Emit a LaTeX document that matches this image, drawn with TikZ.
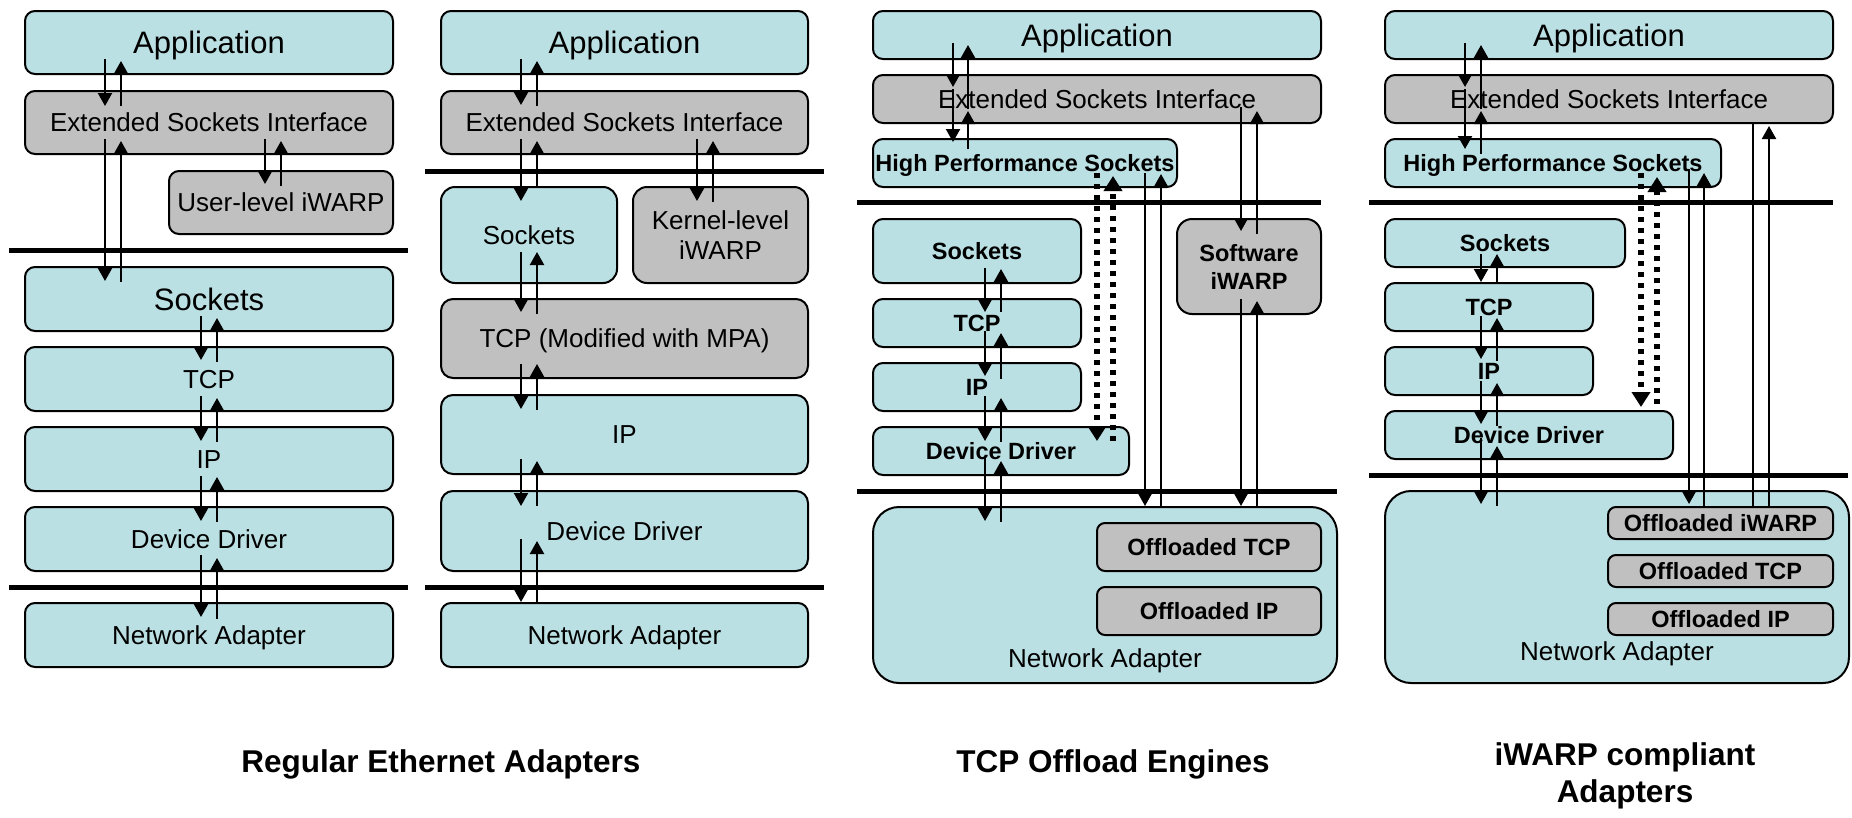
\documentclass[tikz,border=0pt]{standalone}
\usepackage{fontspec}
\setmainfont{Liberation Sans}
\usetikzlibrary{arrows.meta,calc}

\definecolor{boxc}{RGB}{187,224,227}
\definecolor{boxg}{RGB}{192,192,192}

\newcommand\fbig{\fontsize{31}{36}\selectfont}
\newcommand\freg{\fontsize{26}{30}\selectfont}
\newcommand\fbld{\fontsize{23.5}{28}\selectfont\bfseries}
\newcommand\fcap{\fontsize{31.5}{37}\selectfont\bfseries}

% layer box: [extra]{style}{name}{x1}{y1}{x2}{y2}{text}
\newcommand\blk[8][]{%
  \node[#2,#1,minimum width={(#6-#4)*1pt},minimum height={(#7-#5)*1pt}]
    (#3) at ({(#4+#6)/2},{(#5+#7)/2}) {#8};}
% downward arrow: [style]{upper}{lower}{x}{start above upper bottom}{end below lower top}
\newcommand\dn[6][arr]{%
  \draw[#1] let \p1=(#2.south), \p2=(#3.north) in
    ({#4pt},{\y1+(#5)*1pt}) -- ({#4pt},{\y2-(#6)*1pt});}
% upward arrow: [style]{lower}{upper}{x}{start below lower top}{end above upper bottom}
\newcommand\upw[6][arr]{%
  \draw[#1] let \p1=(#2.north), \p2=(#3.south) in
    ({#4pt},{\y1-(#5)*1pt}) -- ({#4pt},{\y2+(#6)*1pt});}

\tikzset{
  blkbase/.style={draw=black,line width=2pt,rounded corners=10pt,inner sep=0pt},
  cb/.style={blkbase,fill=boxc},
  gb/.style={blkbase,fill=boxg},
  tbig/.style={font=\fbig,text height=22.2pt,text depth=0pt},
  treg/.style={font=\freg,text height=18.6pt,text depth=0pt},
  tbold/.style={font=\fbld,text height=16.8pt,text depth=0pt},
  mreg/.style={font=\freg,align=center},
  mbold/.style={font=\fbld,align=center},
  sepline/.style={line width=5pt},
  arr/.style={line width=2.2pt,-{Triangle[length=13pt,width=14pt]}},
  dotarr/.style={line width=5.5pt,dash pattern=on 5pt off 6pt,-{Triangle[length=15pt,width=18pt]}},
  plainln/.style={line width=2.2pt},
}

\begin{document}
\begin{tikzpicture}[x=1pt,y=-1pt]
\useasboundingbox (0,0) rectangle (1852,817);

% ---------- regular Ethernet adapters: user-level iWARP ----------
\blk[tbig]{cb}{a1}{25}{11}{393}{74}{Application}
\blk[treg]{gb}{e1}{25}{91}{393}{154}{Extended Sockets Interface}
\blk[treg]{gb}{u1}{169}{171}{393}{234}{User-level iWARP}
\blk[tbig]{cb}{s1}{25}{267}{393}{331}{Sockets}
\blk[treg]{cb}{t1}{25}{347}{393}{411}{TCP}
\blk[treg]{cb}{i1}{25}{427}{393}{491}{IP}
\blk[treg]{cb}{d1}{25}{507}{393}{571}{Device Driver}
\blk[treg]{cb}{n1}{25}{603}{393}{667}{Network Adapter}

% ---------- regular Ethernet adapters: kernel-level iWARP ----------
\blk[tbig]{cb}{a2}{441}{11}{808}{74}{Application}
\blk[treg]{gb}{e2}{441}{91}{808}{154}{Extended Sockets Interface}
\blk[treg,rounded corners=14pt]{cb}{s2}{441}{187}{617}{283}{Sockets}
\blk[mreg,rounded corners=14pt]{gb}{k2}{633}{187}{808}{283}{Kernel-level\\iWARP}
\blk[treg,rounded corners=12pt]{gb}{t2}{441}{299}{808}{378}{TCP (Modified with MPA)}
\blk[treg,rounded corners=12pt]{cb}{i2}{441}{395}{808}{474}{IP}
\blk[treg,rounded corners=12pt]{cb}{d2}{441}{491}{808}{571}{Device Driver}
\blk[treg]{cb}{n2}{441}{603}{808}{667}{Network Adapter}

% ---------- TCP offload engines ----------
\blk[tbig]{cb}{a3}{873}{11}{1321}{59}{Application}
\blk[treg]{gb}{e3}{873}{75}{1321}{123}{Extended Sockets Interface}
\blk[tbold]{cb}{h3}{873}{139}{1177}{187}{High Performance Sockets}
\blk[tbold]{cb}{s3}{873}{219}{1081}{283}{Sockets}
\blk[mbold,rounded corners=15pt]{gb}{w3}{1177}{219}{1321}{314}{Software\\iWARP}
\blk[tbold]{cb}{t3}{873}{299}{1081}{347}{TCP}
\blk[tbold]{cb}{i3}{873}{363}{1081}{411}{IP}
\blk[tbold]{cb}{d3}{873}{427}{1129}{475}{Device Driver}
\blk[rounded corners=26pt]{cb}{n3}{873}{507}{1337}{683}{}
\blk[tbold,rounded corners=8pt]{gb}{ot3}{1097}{523}{1321}{571}{Offloaded TCP}
\blk[tbold,rounded corners=8pt]{gb}{oi3}{1097}{587}{1321}{635}{Offloaded IP}
\node[font=\freg,anchor=base] (n3t) at (1105,667) {Network Adapter};

% ---------- iWARP compliant adapters ----------
\blk[tbig]{cb}{a4}{1385}{11}{1833}{59}{Application}
\blk[treg]{gb}{e4}{1385}{75}{1833}{123}{Extended Sockets Interface}
\blk[tbold]{cb}{h4}{1385}{139}{1721}{187}{High Performance Sockets}
\blk[tbold]{cb}{s4}{1385}{219}{1625}{267}{Sockets}
\blk[tbold]{cb}{t4}{1385}{283}{1593}{331}{TCP}
\blk[tbold]{cb}{i4}{1385}{347}{1593}{395}{IP}
\blk[tbold]{cb}{d4}{1385}{411}{1673}{459}{Device Driver}
\blk[rounded corners=26pt]{cb}{n4}{1385}{491}{1849}{683}{}
\blk[tbold,rounded corners=8pt]{gb}{ow4}{1608}{507}{1833}{539}{Offloaded iWARP}
\blk[tbold,rounded corners=8pt]{gb}{ot4}{1608}{555}{1833}{587}{Offloaded TCP}
\blk[tbold,rounded corners=8pt]{gb}{oi4}{1608}{603}{1833}{635}{Offloaded IP}
\node[font=\freg,anchor=base] (n4t) at (1617,660) {Network Adapter};

% ---------- user/kernel and host/adapter boundaries ----------
\draw[sepline] (9,250) -- (408,250);
\draw[sepline] (9,587) -- (408,587);
\draw[sepline] (425,171) -- (824,171);
\draw[sepline] (425,587) -- (824,587);
\draw[sepline] (857,202) -- (1321,202);
\draw[sepline] (857,491) -- (1337,491);
\draw[sepline] (1369,202) -- (1833,202);
\draw[sepline] (1369,475) -- (1848,475);

% ---------- data paths, stack 1 ----------
\dn{a1}{e1}{105}{16}{16}
\upw{e1}{a1}{121}{16}{14}
\dn{e1}{s1}{105}{16}{15}
\upw{s1}{e1}{121}{16}{14}
\dn{e1}{u1}{265}{16}{14}
\upw{u1}{e1}{281}{16}{14}
\dn{s1}{t1}{201}{16}{14}
\upw{t1}{s1}{217}{16}{14}
\dn{t1}{i1}{201}{16}{15}
\upw{i1}{t1}{217}{16}{14}
\dn{i1}{d1}{201}{16}{15}
\upw{d1}{i1}{217}{16}{15}
\dn{d1}{n1}{201}{17}{15}
\upw{n1}{d1}{217}{17}{14}

% ---------- data paths, stack 2 ----------
\dn{a2}{e2}{521}{16}{15}
\upw{e2}{a2}{537}{16}{14}
\dn{e2}{s2}{521}{16}{15}
\upw{s2}{e2}{537}{0}{14}
\dn{e2}{k2}{697}{16}{15}
\upw{k2}{e2}{713}{16}{14}
\dn{s2}{t2}{521}{32}{14}
\upw{t2}{s2}{537}{16}{32}
\dn{t2}{i2}{521}{15}{15}
\upw{i2}{t2}{537}{16}{15}
\dn{i2}{d2}{521}{16}{16}
\upw{d2}{i2}{537}{16}{14}
\dn{d2}{n2}{521}{33}{0}
\upw{n2}{d2}{537}{0}{31}

% ---------- data paths, stack 3 ----------
\dn{a3}{e3}{953}{17}{13}
\dn{e3}{h3}{953}{35}{4}
\upw{h3}{e3}{968}{11}{13}
\upw{e3}{a3}{968}{35}{15}
\dn{s3}{t3}{985}{16}{14}
\upw{t3}{s3}{1001}{14}{15}
\dn{t3}{i3}{985}{17}{14}
\upw{i3}{t3}{1001}{17}{15}
\dn{i3}{d3}{985}{16}{15}
\upw{d3}{i3}{1001}{16}{14}
\dn{d3}{n3}{985}{20}{15}
\upw{n3}{d3}{1001}{16}{15}
\dn[dotarr]{h3}{d3}{1097}{15}{15}
\upw[dotarr]{d3}{h3}{1113}{15}{12}
\dn{h3}{n3}{1145}{15}{0}
\upw{n3}{h3}{1161}{0}{14}
\dn{e3}{w3}{1241}{17}{13}
\upw{w3}{e3}{1257}{16}{13}
\dn{w3}{n3}{1241}{16}{0}
\upw{n3}{w3}{1257}{0}{14}

% ---------- data paths, stack 4 ----------
\dn{a4}{e4}{1465}{17}{13}
\dn{e4}{h4}{1465}{35}{11}
\upw{h4}{e4}{1481}{16}{13}
\upw{e4}{a4}{1481}{35}{15}
\dn{s4}{t4}{1481}{14}{0}
\upw{t4}{s4}{1497}{0}{14}
\dn{t4}{i4}{1481}{16}{13}
\upw{i4}{t4}{1497}{15}{14}
\dn{i4}{d4}{1481}{15}{14}
\upw{d4}{i4}{1497}{16}{13}
\dn{d4}{n4}{1481}{22}{14}
\upw{n4}{d4}{1497}{16}{14}
\dn[dotarr]{h4}{d4}{1641}{15}{-3}
\upw[dotarr]{d4}{h4}{1657}{-6}{11}
\dn{h4}{ow4}{1689}{19}{-2}
\upw{ow4}{h4}{1704}{0}{15}
\dn[plainln]{e4}{ow4}{1753}{0}{0}
\upw{ow4}{e4}{1769}{0}{-2}

% ---------- captions ----------
\node[font=\fcap,anchor=base] (c1) at (441,772) {Regular Ethernet Adapters};
\node[font=\fcap,anchor=base] (c2) at (1113,772) {TCP Offload Engines};
\node[font=\fcap,anchor=base] (c3a) at (1625,765) {iWARP compliant};
\node[font=\fcap,anchor=base] (c3b) at (1625,802) {Adapters};
\end{tikzpicture}
\end{document}
